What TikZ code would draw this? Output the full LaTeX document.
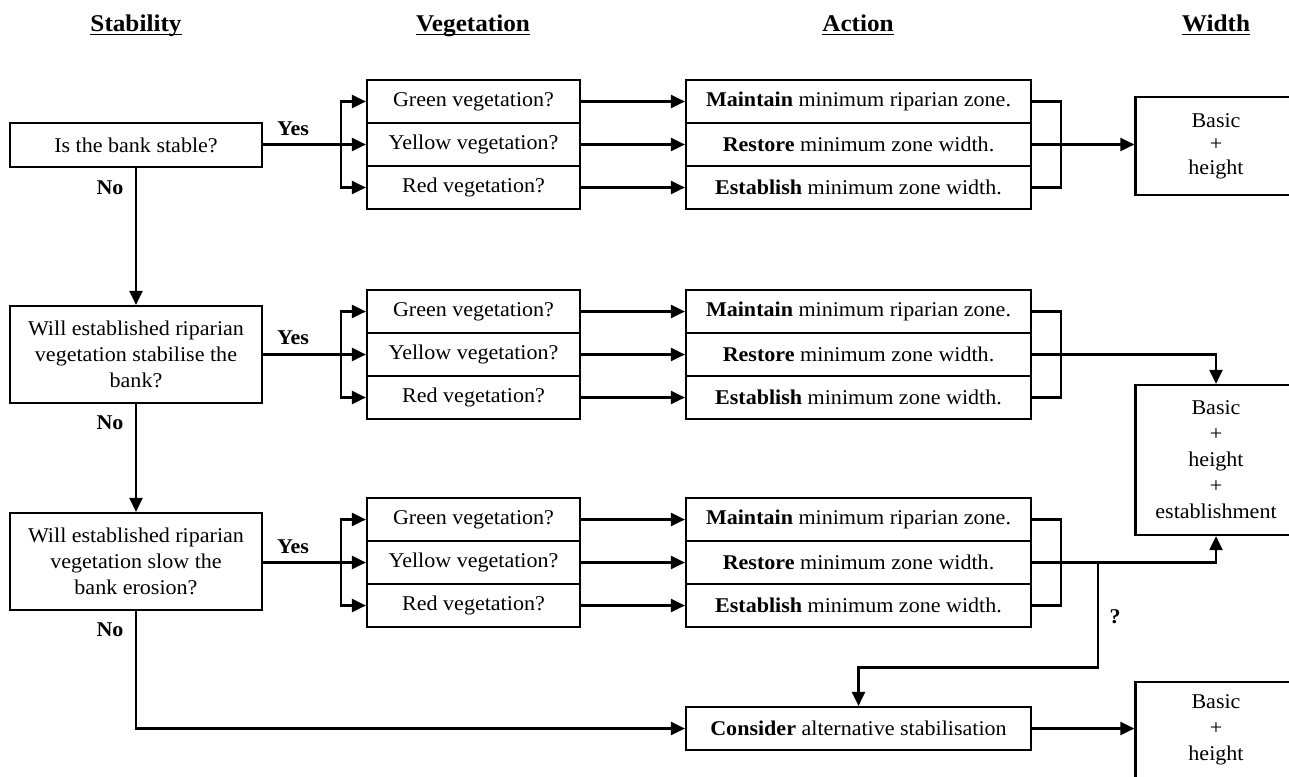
\documentclass[tikz,border=0pt]{standalone}
\usepackage{fontspec}
\setmainfont{Liberation Serif}[FakeStretch=1.05]
\usetikzlibrary{arrows.meta}
\begin{document}
\begin{tikzpicture}[x=1pt,y=-1pt,
  lw/.style={line width=2.2pt},
  box/.style={draw, lw, inner sep=2pt, align=center, font=\fontsize{21}{26}\selectfont},
  qbox/.style={box, minimum width=252pt, minimum height=97pt},
  vrow/.style={box, minimum width=213pt, minimum height=43pt},
  arow/.style={box, minimum width=345pt, minimum height=43pt},
  wbox/.style={box, minimum width=161pt},
  lbl/.style={font=\fontsize{21}{26}\selectfont\bfseries, inner sep=0pt},
  hdr/.style={font=\fontsize{24}{28}\selectfont\bfseries, inner sep=0pt, anchor=base},
  arr/.style={lw, -{Triangle[length=14pt,width=13pt]}},
  ln/.style={lw},
  uline/.style={line width=1.8pt}
]
\clip (0,0) rectangle (1289,776);
\fill[white] (0,0) rectangle (1289,776);

% headers
\node[hdr] (hs) at (136,32) {Stability};
\node[hdr] (hv) at (473,32) {Vegetation};
\node[hdr] (ha) at (858,32) {Action};
\node[hdr] (hw) at (1216,32) {Width};
\foreach \h in {hs,hv,ha,hw}{
  \draw[uline] ([yshift=-2.5pt]\h.base west) -- ([yshift=-2.5pt]\h.base east);
}

% stability questions
\node[qbox, minimum height=44pt] (q1) at (136,145) {Is the bank stable?};
\node[qbox] (q2) at (136,354.5) {Will established riparian\\vegetation stabilise the\\bank?};
\node[qbox] (q3) at (136,561.5) {Will established riparian\\vegetation slow the\\bank erosion?};

% vegetation and action rows
\foreach \g/\t in {1/80,2/290,3/498}{
  \node[vrow] (v\g g) at (473.5,\t+21.5) {Green vegetation?};
  \node[vrow] (v\g y) at (473.5,\t+64.5) {Yellow vegetation?};
  \node[vrow] (v\g r) at (473.5,\t+107.5) {Red vegetation?};
  \node[arow] (a\g g) at (858.5,\t+21.5) {\textbf{Maintain} minimum riparian zone.};
  \node[arow] (a\g y) at (858.5,\t+64.5) {\textbf{Restore} minimum zone width.};
  \node[arow] (a\g r) at (858.5,\t+107.5) {\textbf{Establish} minimum zone width.};
  \draw[arr] (v\g y.west -| q\g.east) -- (v\g y.west);
  \draw[arr] ([xshift=-25pt]v\g y.west) |- (v\g g.west);
  \draw[arr] ([xshift=-25pt]v\g y.west) |- (v\g r.west);
  \draw[arr] (v\g g.east) -- (a\g g.west);
  \draw[arr] (v\g y.east) -- (a\g y.west);
  \draw[arr] (v\g r.east) -- (a\g r.west);
  \draw[ln] (a\g g.east) -| ([xshift=29pt]a\g r.east) -- (a\g r.east);
}

% consider box
\node[box, minimum width=345pt, minimum height=43pt] (cons) at (858.5,728.5) {\textbf{Consider} alternative stabilisation};

% width boxes
\node[wbox, minimum height=98pt, font=\fontsize{21}{23.5}\selectfont] (w1) at (1216,146) {Basic\\+\\height};
\node[wbox, minimum height=150pt] (w2) at (1216,460) {Basic\\+\\height\\+\\establishment};
\node[wbox, minimum height=96pt] (w3) at (1216,730) {Basic\\+\\height};

% stability flow
\draw[arr] (q1.south) -- (q2.north);
\draw[arr] (q2.south) -- (q3.north);
\draw[arr] (q3.south) |- (cons.west);

% action to width
\draw[arr] (a1y.east) -- (a1y.east -| w1.west);
\draw[arr] (a2y.east) -| (w2.north);
\draw[arr] (a3y.east) -| (w2.south);
\draw[arr] ([xshift=66pt]a3y.east) -- ++(0,105) -| (cons.north);
\draw[arr] (cons.east) -- (cons.east -| w3.west);

% labels
\node[lbl] (y1) at (293,129) {Yes};
\node[lbl] (y2) at (293,338) {Yes};
\node[lbl] (y3) at (293,547) {Yes};
\node[lbl] (n1) at (110,188) {No};
\node[lbl] (n2) at (110,423) {No};
\node[lbl] (n3) at (110,630) {No};
\node[lbl] (qm) at (1115,617) {?};
\end{tikzpicture}
\end{document}
